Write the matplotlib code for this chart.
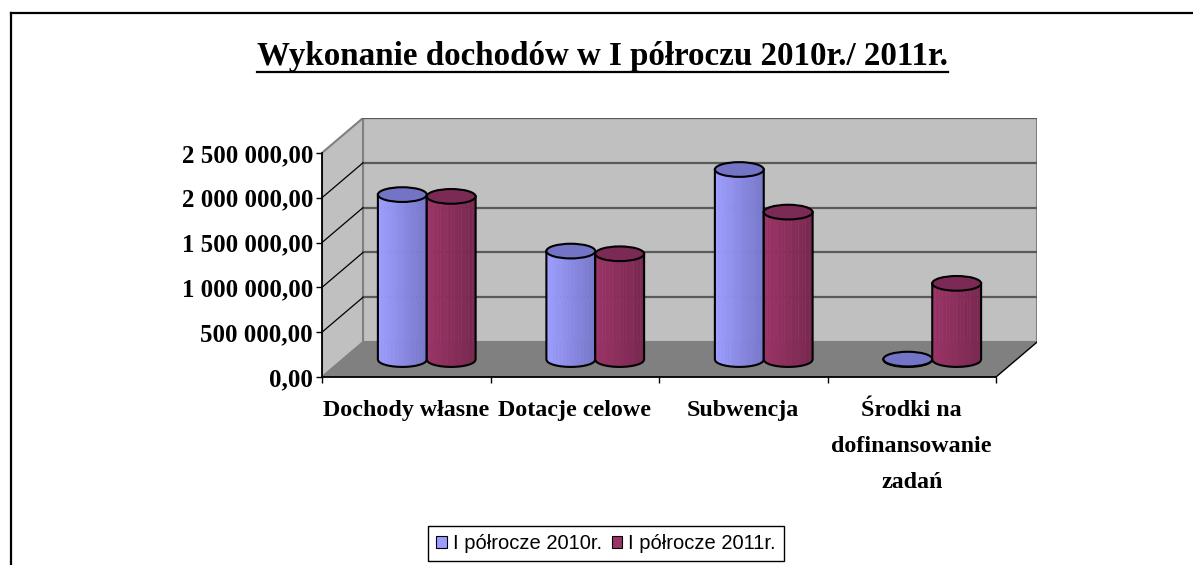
import numpy as np
import matplotlib
matplotlib.use("Agg")
import matplotlib.pyplot as plt
from matplotlib.patches import Polygon, Ellipse, Patch
from matplotlib.lines import Line2D

# data
categories = ["Dochody własne", "Dotacje celowe", "Subwencja",
              "Środki na\ndofinansowanie\nzadań"]
series_names = ["I półrocze 2010r.", "I półrocze 2011r."]
values_2010 = [1840000, 1210000, 2120000, 5000]
values_2011 = [1820000, 1180000, 1645000, 850000]
yticks = [0, 500000, 1000000, 1500000, 2000000, 2500000]

BODY = [("#9d9dff", "#7878cc"), ("#9a3366", "#7a2850")]
TOP = ["#7474c6", "#7a2a55"]

W, H = 1193, 565
YMAX = 2500000
DX = 41 / 168.5           # depth offset, category units
DY = 388900               # depth offset, value units
ELL = 82000               # half height of the cylinder ellipses
RAD = 0.145               # cylinder radius, category units

fig = plt.figure(figsize=(W / 100, H / 100), dpi=100)
ax = fig.add_axes([322 / W, (H - 377) / H, (1037 - 322) / W, (377 - 118) / H])
ax.set_xlim(0, len(categories) + DX)
ax.set_ylim(0, YMAX + DY)
ncat = len(categories)

# walls and floor
ax.add_patch(Polygon([(DX, DY), (ncat + DX, DY), (ncat + DX, YMAX + DY), (DX, YMAX + DY)],
                     closed=True, facecolor="#c0c0c0", edgecolor="#808080", lw=1.5, zorder=1))
ax.add_patch(Polygon([(0, 0), (DX, DY), (DX, YMAX + DY), (0, YMAX)],
                     closed=True, facecolor="#c0c0c0", edgecolor="#808080", lw=1.5, zorder=1))
ax.add_patch(Polygon([(0, 0), (ncat, 0), (ncat + DX, DY), (DX, DY)],
                     closed=True, facecolor="#808080", edgecolor="none", zorder=1.5))
ax.plot([ncat, ncat + DX], [0, DY], color="black", lw=1, zorder=2)
for v in yticks[1:]:
    ax.plot([DX, ncat + DX], [v + DY, v + DY], color="#5a5a5a", lw=1.6, zorder=1.6)
    if v < YMAX:
        ax.plot([0, DX], [v, v + DY], color="black", lw=0.9, zorder=1.6)


def cylinder(xc, value, body, top, z):
    base = DY / 2
    h = base + value
    n = 14
    xs = np.linspace(xc - RAD, xc + RAD, n + 1)
    c0 = np.array(matplotlib.colors.to_rgb(body[0]))
    c1 = np.array(matplotlib.colors.to_rgb(body[1]))
    for i in range(n):
        xa = np.linspace(xs[i], xs[i + 1], 4)
        ya = base - ELL * np.sqrt(np.clip(1 - ((xa - xc) / RAD) ** 2, 0, 1))
        pts = [(x, y) for x, y in zip(xa, ya)] + [(xs[i + 1], h), (xs[i], h)]
        t = i / (n - 1)
        col = c0 * (1 - t) + c1 * t
        ax.add_patch(Polygon(pts, closed=True, facecolor=col, edgecolor=col, lw=0.3, zorder=z))
    xa = np.linspace(xc - RAD, xc + RAD, 60)
    ya = base - ELL * np.sqrt(np.clip(1 - ((xa - xc) / RAD) ** 2, 0, 1))
    ox = np.concatenate([[xc - RAD], xa, [xc + RAD]])
    oy = np.concatenate([[h], ya, [h]])
    ax.plot(ox, oy, color="black", lw=1.5, zorder=z + 0.1, solid_joinstyle="round")
    ax.add_patch(Ellipse((xc, h), 2 * RAD, 2 * ELL, facecolor=top, edgecolor="black",
                         lw=1.5, zorder=z + 0.2))


for i in range(ncat):
    cx = i + 0.5 + DX / 2
    cylinder(cx - RAD, values_2010[i], BODY[0], TOP[0], 3 + i)
    cylinder(cx + RAD, values_2011[i], BODY[1], TOP[1], 3.5 + i)

# axes
for s in ["top", "right"]:
    ax.spines[s].set_visible(False)
ax.spines["left"].set_bounds(0, YMAX)
ax.spines["bottom"].set_bounds(0, ncat)
ax.spines["left"].set_linewidth(1.3)
ax.spines["bottom"].set_linewidth(1.3)
ax.spines["left"].set_zorder(2.5)
ax.spines["bottom"].set_zorder(2.5)

ytick_font = dict(family="Liberation Serif", weight="bold", size=17.9)
xtick_font = dict(family="Liberation Serif", weight="bold", size=17.3)


def fmt(v):
    return f"{v:,.2f}".replace(",", " ").replace(".", ",")


ax.set_yticks(yticks)
ax.set_yticklabels([fmt(v) for v in yticks], fontdict=ytick_font)
ax.tick_params(axis="y", length=4.5, width=1, pad=2)
ax.set_xticks(range(ncat + 1))
ax.set_xticklabels([])
ax.set_xticks([i + 0.5 for i in range(ncat)], minor=True)
ax.set_xticklabels(categories, minor=True, fontdict=xtick_font, linespacing=1.95)
ax.tick_params(axis="x", which="major", length=4.5, width=1)
ax.tick_params(axis="x", which="minor", length=0, pad=16.5)

# title with underline
title = fig.text(603 / W, 1 - 65 / H, "Wykonanie dochodów w I półroczu 2010r./ 2011r.",
                 ha="center", va="baseline", family="Liberation Serif", weight="bold", size=23.8)
fig.canvas.draw()
bb = title.get_window_extent()
uy = 1 - 72 / H
fig.add_artist(Line2D([bb.x0 / W, bb.x1 / W], [uy, uy], color="black", lw=1.6))

# chart frame, cut at right and bottom
fig.add_artist(Line2D([10.5 / W, 1.0], [1 - 12.5 / H, 1 - 12.5 / H], color="black", lw=1.6))
fig.add_artist(Line2D([10.5 / W, 10.5 / W], [1 - 12.5 / H, 0], color="black", lw=1.6))

handles = [Patch(facecolor=BODY[0][0], edgecolor="black", lw=0.8),
           Patch(facecolor=BODY[1][0], edgecolor="black", lw=0.8)]
leg = fig.legend(handles, series_names, loc="upper center", ncol=2,
                 bbox_to_anchor=(606 / W, 1 - 526 / H),
                 prop=dict(family="Liberation Sans", size=14.5),
                 frameon=True, fancybox=False, edgecolor="black", framealpha=1,
                 handlelength=0.5, handleheight=0.5, handletextpad=0.3,
                 columnspacing=0.5, borderpad=0.4, borderaxespad=0)
leg.get_frame().set_linewidth(1)

fig.savefig("out.png", dpi=100)
